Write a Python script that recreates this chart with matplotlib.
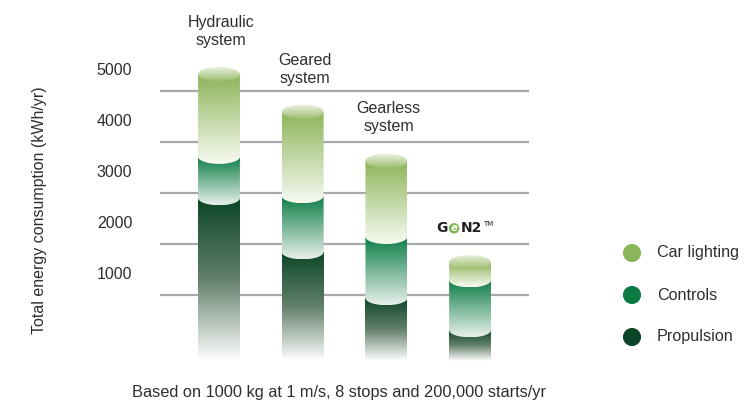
import numpy as np
import matplotlib
matplotlib.use("Agg")
import matplotlib.pyplot as plt
from matplotlib.colors import to_rgb
from matplotlib.path import Path

plt.rcParams["font.family"] = ["Liberation Sans", "DejaVu Sans"]

# values in kWh/yr
systems = ["Hydraulic\nsystem", "Geared\nsystem", "Gearless\nsystem", "GeN2"]
propulsion = [2900, 1840, 940, 310]
controls = [810, 1100, 1200, 980]
car_lighting = [1620, 1650, 1490, 350]
yticks = [1000, 2000, 3000, 4000, 5000]
legend_labels = ["Car lighting", "Controls", "Propulsion"]
legend_colors = ["#8ab55a", "#0c7a43", "#0b4426"]

TEXT = "#2e2e2e"
BAR_W = 0.5
ELL_H = 140       # half height of the cylinder ellipses, data units
BAR_FLOOR = -300  # where the faded bottoms end

STOPS_LIGHT = [(0, "#8cb458"), (1, "#f7faf2")]
STOPS_CTRL = [(0, "#0a7c44"), (1, "#e8f0eb")]
STOPS_PROP = [(0, "#0b4526"), (0.5, "#62806a"), (1, "#ffffff")]
STOPS_CAP = [(0, "#eef4e4"), (1, "#9dbf6e")]


def gradient(stops, n=256):
    pos = [p for p, _ in stops]
    cols = np.array([to_rgb(c) for _, c in stops])
    t = np.linspace(0, 1, n)
    rgb = np.stack([np.interp(t, pos, cols[:, k]) for k in range(3)], axis=-1)
    return np.repeat(rgb[:, None, :], 2, axis=1)


def paint(ax, verts, extent, stops):
    im = ax.imshow(gradient(stops), extent=extent, origin="upper", aspect="auto",
                   interpolation="bilinear", zorder=3)
    im.set_clip_path(Path(verts + [verts[0]], closed=True), transform=ax.transData)


def segment(ax, xc, y0, y1, stops, arc=True):
    x0, x1 = xc - BAR_W / 2, xc + BAR_W / 2
    verts = [(x0, y1), (x0, y0)]
    low = y0
    if arc:
        t = np.linspace(np.pi, 0, 60)
        verts += list(zip(xc + BAR_W / 2 * np.cos(t), y0 - ELL_H * np.sin(t)))
        low = y0 - ELL_H
    verts += [(x1, y0), (x1, y1)]
    paint(ax, verts, (x0, x1, low, y1), stops)


def cap(ax, xc, y):
    t = np.linspace(0, 2 * np.pi, 120)
    verts = list(zip(xc + BAR_W / 2 * np.cos(t), y + ELL_H * np.sin(t)))
    paint(ax, verts, (xc - BAR_W / 2, xc + BAR_W / 2, y - ELL_H, y + ELL_H), STOPS_CAP)


fig = plt.figure(figsize=(7.45, 4.0), dpi=100)
ax = fig.add_axes([160 / 745, 25 / 400, 369 / 745, 365 / 400])

for v in yticks:
    ax.axhline(v, color="#a7a9ac", lw=1.6, zorder=1)
    ax.annotate(f"{v}", xy=(0, v), xycoords=("axes fraction", "data"),
                xytext=(-20, 14.5), textcoords="offset points",
                ha="right", va="center", fontsize=11.5, color=TEXT)

for i in range(len(systems)):
    p, c, l = propulsion[i], controls[i], car_lighting[i]
    segment(ax, i, BAR_FLOOR, p, STOPS_PROP, arc=False)
    segment(ax, i, p, p + c, STOPS_CTRL)
    segment(ax, i, p + c, p + c + l, STOPS_LIGHT)
    top = p + c + l
    cap(ax, i, top)
    if i < 3:
        ax.annotate(systems[i], xy=(i, top), xytext=(1.5, 19), textcoords="offset points",
                    ha="center", va="bottom", fontsize=11.5, linespacing=1.25, color=TEXT)
    else:
        logo = dict(xy=(i, top), textcoords="offset points", va="center",
                    fontsize=10, fontweight="bold", color="#231f20", family="DejaVu Sans")
        ax.annotate("G", xytext=(-20, 24.5), ha="center", **logo)
        ax.annotate("e", xytext=(-11.5, 24.5), ha="center",
                    bbox=dict(boxstyle="circle,pad=0.02", fc="#7ab648", ec="none"),
                    **{**logo, "color": "white", "fontsize": 7.5, "fontstyle": "italic"})
        ax.annotate("N2", xytext=(-6.5, 24.5), ha="left", **logo)
        ax.annotate("TM", xytext=(9.5, 27.5), ha="left",
                    **{**logo, "fontsize": 5, "fontweight": "normal"})

ax.set_xlim(-0.705, 3.704)
ax.set_ylim(-569, 6588)
ax.axis("off")

fig.text(40 / 745, 1 - 210 / 400, "Total energy consumption (kWh/yr)", rotation=90,
         ha="center", va="center", fontsize=11.5, color=TEXT)
fig.text(339 / 745, 1 - 393 / 400, "Based on 1000 kg at 1 m/s, 8 stops and 200,000 starts/yr",
         ha="center", va="center", fontsize=11.8, color=TEXT)

lax = fig.add_axes([0, 0, 1, 1], zorder=-1)
lax.set_xlim(0, 745)
lax.set_ylim(400, 0)
lax.axis("off")
for k, (lab, col) in enumerate(zip(legend_labels, legend_colors)):
    y = 253 + 42 * k
    lax.scatter([632], [y], s=170, color=col, edgecolors="none")
    lax.text(657, y, lab, ha="left", va="center", fontsize=11.6, color=TEXT)

fig.savefig("out.png", dpi=100, facecolor="white")
